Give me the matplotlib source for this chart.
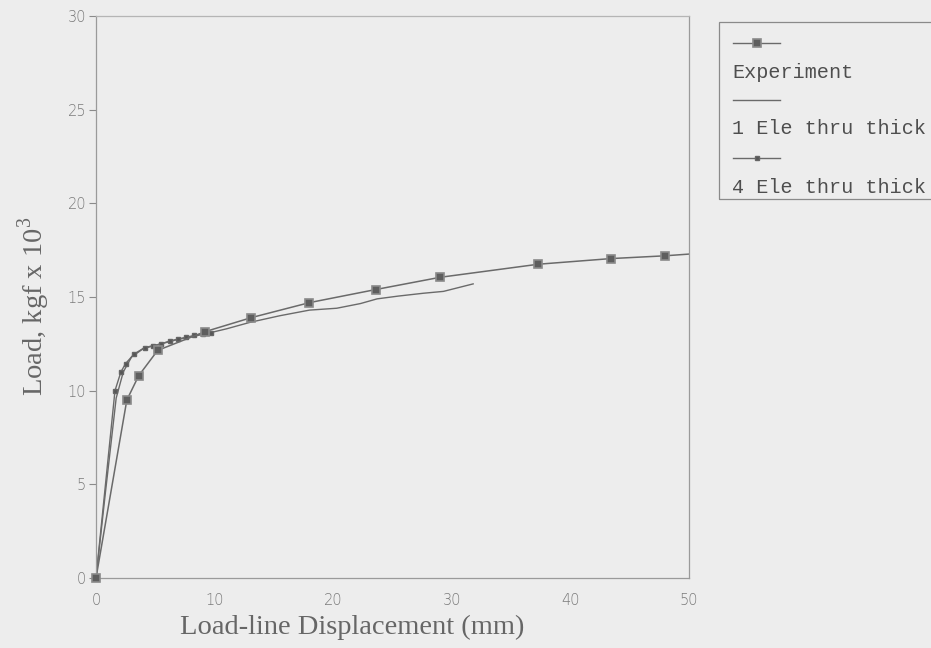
import numpy as np
import matplotlib
matplotlib.use('Agg')
from matplotlib import pyplot as plt
from matplotlib.lines import Line2D
from matplotlib.patches import Rectangle

# data
exp_x = [0, 2.6, 3.6, 5.2, 9.2, 13.1, 18.0, 23.6, 29.0, 37.3, 43.4, 48.0, 50.2]
exp_y = [0, 9.5, 10.8, 12.15, 13.15, 13.9, 14.7, 15.4, 16.05, 16.75, 17.05, 17.2, 17.3]

one_ele_x = [0, 0.8, 1.7, 2.3, 3.0, 4.0, 5.5, 7.0, 9.0, 11.0, 13.0, 15.5, 18.0,
             20.3, 22.3, 23.7, 25.5, 27.6, 29.3, 31.8]
one_ele_y = [0, 4.6, 9.6, 11.0, 11.8, 12.25, 12.5, 12.75, 13.0, 13.3, 13.65, 14.0, 14.3,
             14.4, 14.65, 14.9, 15.05, 15.2, 15.3, 15.7]

four_ele_x = [0, 1.6, 2.1, 2.5, 3.2, 4.1, 4.8, 5.5, 6.2, 6.9, 7.6, 8.3, 9.0, 9.7]
four_ele_y = [0, 10.0, 11.0, 11.45, 11.95, 12.3, 12.4, 12.5, 12.65, 12.75, 12.85, 12.95, 13.05, 13.1]

legend_labels = ['Experiment', '1 Ele thru thick', '4 Ele thru thick']

bg = '#ededed'
ink = '#6a6a6a'
txt = '#7a7a7a'

plt.rcParams['mathtext.fontset'] = 'custom'
plt.rcParams['mathtext.rm'] = 'Liberation Serif'

fig = plt.figure(figsize=(9.31, 6.48), dpi=100, facecolor=bg)
ax = fig.add_axes([96/931, 1-578/648, (689-96)/931, (578-16)/648], facecolor=bg)

exp_marker = dict(marker='s', ms=5.5, mfc='#5e5e5e', mec='#8a8a8a', mew=1.2)
four_marker = dict(marker='s', ms=3.5, mfc='#555555', mec='#666666')

ax.plot(one_ele_x, one_ele_y, color=ink, lw=1.0)
ax.plot(four_ele_x, four_ele_y, color=ink, lw=1.0, **four_marker)
ax.plot(exp_x, exp_y, color=ink, lw=1.1)
ax.plot(exp_x[:-1], exp_y[:-1], lw=0, clip_on=False, zorder=3, **exp_marker)

ax.set_xlim(0, 50)
ax.set_ylim(0, 30)
ax.set_xticks(np.arange(0, 51, 10))
ax.set_yticks(np.arange(0, 31, 5))
for s in ax.spines.values():
    s.set_color('#9a9a9a')
    s.set_linewidth(0.9)
ax.spines['top'].set_color('#b5b5b5')
ax.tick_params(axis='y', direction='out', length=5, color='#8a8a8a',
               labelcolor=txt, labelsize=10.5, pad=2)
ax.tick_params(axis='x', direction='out', length=0, labelcolor=txt,
               labelsize=10.5, pad=11)
for lab in ax.get_xticklabels() + ax.get_yticklabels():
    lab.set_fontfamily('DejaVu Sans')
    lab.set_fontweight('light')

ax.set_xlabel('Load-line Displacement (mm)', family='Liberation Serif',
              fontsize=20.5, color='#666666')
ax.xaxis.set_label_coords((352 - 96) / 593, -(615 - 578) / 562)
ax.set_ylabel('Load, kgf x 10$^3$', family='Liberation Serif',
              fontsize=20.5, color='#666666')
ax.yaxis.set_label_coords((52 - 96) / 593, (578 - 306) / 562)

# legend drawn by hand: handle row above each label row
def fx(px):
    return px / 931

def fy(py):
    return 1 - py / 648

fig.add_artist(Rectangle((fx(719), fy(199)), fx(931 - 719 + 20), (199 - 22) / 648,
                         transform=fig.transFigure, fill=False,
                         edgecolor='#8a8a8a', lw=0.9))
handle_styles = [exp_marker, dict(marker=None), four_marker]
handle_rows = [43, 100, 158]
label_rows = [72, 129, 187]
for lab, st, hy, ly in zip(legend_labels, handle_styles, handle_rows, label_rows):
    ln = Line2D([fx(733), fx(757), fx(780)], [fy(hy)] * 3, transform=fig.transFigure,
                color=ink, lw=1.0, markevery=[1], **st)
    fig.add_artist(ln)
    fig.text(fx(732), fy(ly), lab, family='Liberation Mono', fontsize=14.5,
             color='#4e4e4e', va='center', ha='left')

fig.savefig('out.png', dpi=100, facecolor=bg)
